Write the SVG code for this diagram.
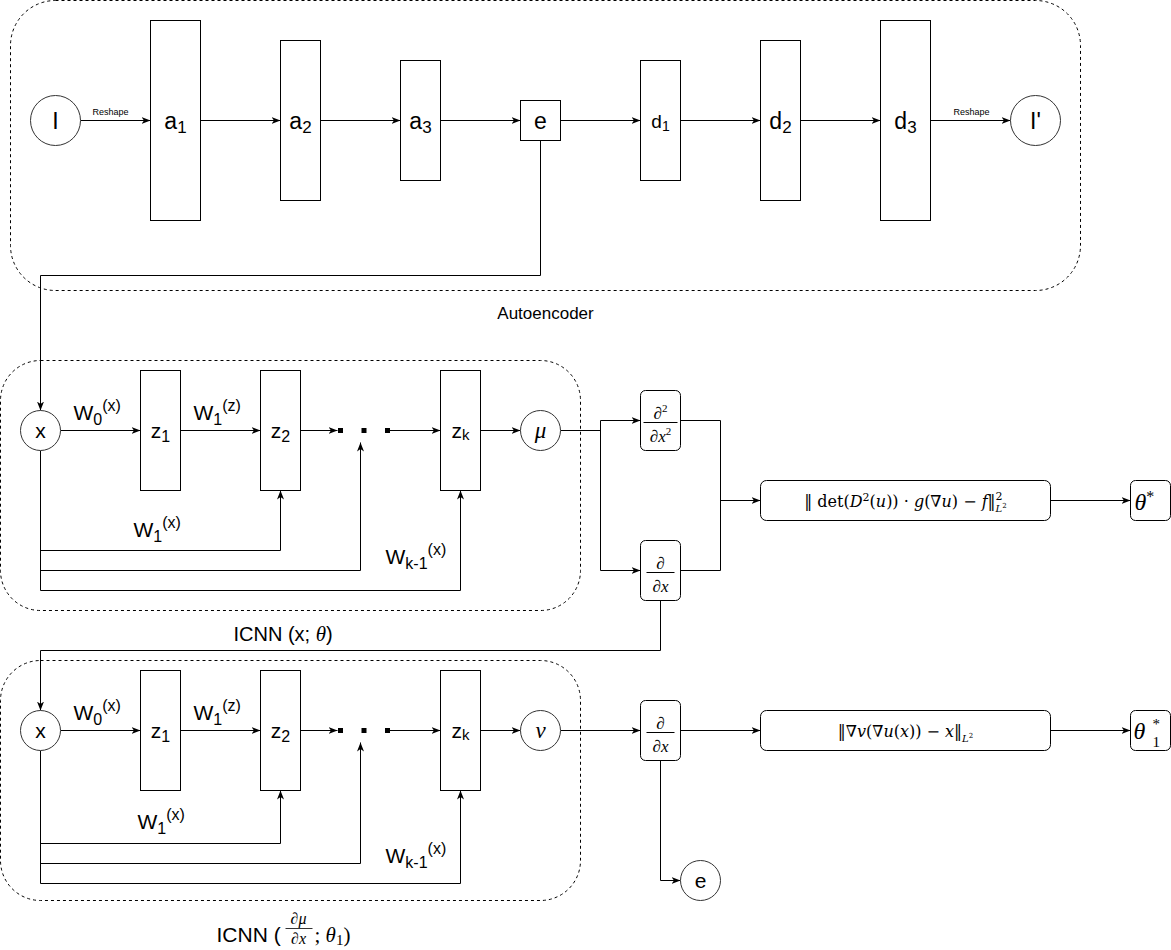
<svg xmlns="http://www.w3.org/2000/svg" width="1171" height="950" viewBox="0 0 1171 950">
<defs>
<marker id="arr" markerUnits="userSpaceOnUse" markerWidth="10" markerHeight="8" refX="9" refY="3.5" orient="auto">
<path d="M0,0 L9,3.5 L0,7 L2.5,3.5 Z" fill="#000"/>
</marker>
</defs>
<style>
.cont{fill:none;stroke:#000;stroke-width:1;stroke-dasharray:3 3}
.box{fill:#fff;stroke:#000;stroke-width:1}
.circ{fill:#fff;stroke:#333;stroke-width:1}
.ln{fill:none;stroke:#000;stroke-width:1}
.ar{fill:none;stroke:#000;stroke-width:1;marker-end:url(#arr)}
.t{font-family:"Liberation Sans",Arial,sans-serif;fill:#000}
.m{font-family:"Liberation Serif","DejaVu Serif",serif;fill:#000}
.f{font-family:"DejaVu Serif","Liberation Serif",serif;fill:#000}
.i{font-style:italic}
</style>
<rect width="1171" height="950" fill="#fff"/>
<g transform="translate(0.5,0.5)">
<g id="containers">
<rect class="cont" x="10" y="0" width="1070" height="290" rx="45" ry="45"/>
<rect class="cont" x="0" y="360" width="580" height="250" rx="40" ry="40"/>
<rect class="cont" x="0" y="660" width="580" height="240" rx="40" ry="40"/>
<text class="t" x="545" y="318" font-size="17" text-anchor="middle">Autoencoder</text>
<text class="t" x="233" y="640" font-size="20">ICNN (x; <tspan class="m i" font-size="21">θ</tspan>)</text>
<g id="icnn2-label">
<text class="t" x="216" y="941" font-size="21">ICNN (</text>
<text class="m i" x="298" y="923" font-size="16" text-anchor="middle">∂μ</text>
<line x1="285" y1="928" x2="312" y2="928" stroke="#000" stroke-width="0.8"/>
<text class="m i" x="298" y="943" font-size="16" text-anchor="middle">∂x</text>
<text class="m" x="314" y="941" font-size="21">; <tspan class="i">θ</tspan><tspan font-size="15" dy="3">1</tspan><tspan dy="-3">)</tspan></text>
</g>
</g>

<g id="connectors">
<path class="ar" d="M80,120 H150"/>
<text class="t" x="110" y="114" font-size="9" text-anchor="middle">Reshape</text>
<path class="ar" d="M200,120 H280"/>
<path class="ar" d="M320,120 H400"/>
<path class="ar" d="M440,120 H520"/>
<path class="ar" d="M560,120 H640"/>
<path class="ar" d="M680,120 H760"/>
<path class="ar" d="M800,120 H880"/>
<path class="ar" d="M930,120 H1010"/>
<text class="t" x="971" y="114" font-size="9" text-anchor="middle">Reshape</text>
<path class="ar" d="M540,140 V275 H40 V410"/>

<path class="ar" d="M60,430 H140"/>
<path class="ar" d="M180,430 H260"/>
<path class="ar" d="M300,430 H337"/>
<path class="ar" d="M388,430 H440"/>
<path class="ar" d="M480,430 H520"/>
<path class="ln" d="M560,430 H600"/>
<path class="ar" d="M600,420 H640"/>
<path class="ar" d="M600,420 V570 H640"/>
<path class="ar" d="M40,450 V590 H460 V490"/>
<path class="ar" d="M40,550 H280 V490"/>
<path class="ar" d="M40,570 H360 V442"/>
<path class="ln" d="M680,420 H720 V570 H680"/>
<path class="ar" d="M720,500 H760"/>
<path class="ar" d="M1050,500 H1130"/>
<path class="ar" d="M660,600 V650 H40 V710"/>

<path class="ar" d="M60,730 H140"/>
<path class="ar" d="M180,730 H260"/>
<path class="ar" d="M300,730 H337"/>
<path class="ar" d="M388,730 H440"/>
<path class="ar" d="M480,730 H520"/>
<path class="ar" d="M560,730 H640"/>
<path class="ar" d="M40,750 V883 H460 V790"/>
<path class="ar" d="M40,843 H280 V790"/>
<path class="ar" d="M40,863 H360 V742"/>
<path class="ar" d="M680,730 H760"/>
<path class="ar" d="M1050,730 H1130"/>
<path class="ar" d="M660,760 V880 H680"/>

<g id="weight-labels" class="t">
<text x="73" y="419" font-size="21">W<tspan font-size="16" dy="5">0</tspan><tspan font-size="16" dy="-14">(x)</tspan></text>
<text x="193" y="419" font-size="21">W<tspan font-size="16" dy="5">1</tspan><tspan font-size="16" dy="-14">(z)</tspan></text>
<text x="133" y="536" font-size="21">W<tspan font-size="16" dy="5">1</tspan><tspan font-size="16" dy="-14">(x)</tspan></text>
<text x="385" y="563" font-size="21">W<tspan font-size="16" dy="5">k-1</tspan><tspan font-size="16" dy="-14">(x)</tspan></text>
<text x="73" y="719" font-size="21">W<tspan font-size="16" dy="5">0</tspan><tspan font-size="16" dy="-14">(x)</tspan></text>
<text x="193" y="719" font-size="21">W<tspan font-size="16" dy="5">1</tspan><tspan font-size="16" dy="-14">(z)</tspan></text>
<text x="137" y="828" font-size="21">W<tspan font-size="16" dy="5">1</tspan><tspan font-size="16" dy="-14">(x)</tspan></text>
<text x="385" y="862" font-size="21">W<tspan font-size="16" dy="5">k-1</tspan><tspan font-size="16" dy="-14">(x)</tspan></text>
</g>
</g>

<g id="node-I"><circle class="circ" cx="55" cy="120" r="25"/><text class="t" x="55" y="128" font-size="23" text-anchor="middle">I</text></g>
<g id="node-a1"><rect class="box" x="150" y="20" width="50" height="200"/><text class="t" x="175" y="128" font-size="23" text-anchor="middle">a<tspan font-size="17" dy="4">1</tspan></text></g>
<g id="node-a2"><rect class="box" x="280" y="40" width="40" height="160"/><text class="t" x="300" y="128" font-size="23" text-anchor="middle">a<tspan font-size="17" dy="4">2</tspan></text></g>
<g id="node-a3"><rect class="box" x="400" y="60" width="40" height="120"/><text class="t" x="420" y="128" font-size="23" text-anchor="middle">a<tspan font-size="17" dy="4">3</tspan></text></g>
<g id="node-e"><rect class="box" x="520" y="100" width="40" height="40"/><text class="t" x="540" y="128" font-size="23" text-anchor="middle">e</text></g>
<g id="node-d1"><rect class="box" x="640" y="60" width="40" height="120"/><text class="t" x="660" y="127" font-size="19" text-anchor="middle">d<tspan font-size="14" dy="3">1</tspan></text></g>
<g id="node-d2"><rect class="box" x="760" y="40" width="40" height="160"/><text class="t" x="780" y="128" font-size="23" text-anchor="middle">d<tspan font-size="17" dy="4">2</tspan></text></g>
<g id="node-d3"><rect class="box" x="880" y="20" width="50" height="200"/><text class="t" x="905" y="128" font-size="23" text-anchor="middle">d<tspan font-size="17" dy="4">3</tspan></text></g>
<g id="node-Iprime"><circle class="circ" cx="1035" cy="120" r="25"/><text class="t" x="1035" y="128" font-size="23" text-anchor="middle">I'</text></g>

<g id="node-x1"><circle class="circ" cx="40" cy="430" r="20"/><text class="t" x="40" y="437" font-size="21" text-anchor="middle">x</text></g>
<g id="node-z1a"><rect class="box" x="140" y="370" width="40" height="120"/><text class="t" x="160" y="437" font-size="21" text-anchor="middle">z<tspan font-size="16" dy="4">1</tspan></text></g>
<g id="node-z2a"><rect class="box" x="260" y="370" width="40" height="120"/><text class="t" x="280" y="437" font-size="21" text-anchor="middle">z<tspan font-size="16" dy="4">2</tspan></text></g>
<g id="node-dotsa"><rect x="337.5" y="427.5" width="5" height="5"/><rect x="361" y="427.5" width="5" height="5"/><rect x="384.5" y="427.5" width="5" height="5"/></g>
<g id="node-zka"><rect class="box" x="440" y="370" width="40" height="120"/><text class="t" x="460" y="437" font-size="21" text-anchor="middle">z<tspan font-size="15" dy="2">k</tspan></text></g>
<g id="node-mu"><circle class="circ" cx="540" cy="430" r="20"/><text class="m i" x="540" y="437" font-size="23" text-anchor="middle">μ</text></g>

<g id="node-d2dx2"><rect class="box" x="640" y="390" width="40" height="60" rx="5"/>
<text class="m i" x="660" y="418" font-size="17" text-anchor="middle">∂<tspan font-size="11" dy="-7" font-style="normal">2</tspan></text>
<line x1="643" y1="422" x2="677" y2="422" stroke="#000" stroke-width="1"/>
<text class="m i" x="660" y="441" font-size="17" text-anchor="middle">∂x<tspan font-size="11" dy="-7" font-style="normal">2</tspan></text></g>
<g id="node-ddx1"><rect class="box" x="640" y="540" width="40" height="60" rx="5"/>
<text class="m i" x="660" y="568" font-size="17" text-anchor="middle">∂</text>
<line x1="646" y1="572" x2="674" y2="572" stroke="#000" stroke-width="1"/>
<text class="m i" x="660" y="591" font-size="17" text-anchor="middle">∂x</text></g>
<g id="node-loss1"><rect class="box" x="760" y="480" width="290" height="40" rx="6"/>
<text class="f" x="905" y="506" font-size="16" text-anchor="middle">‖ det(<tspan class="i">D</tspan><tspan font-size="11" dy="-6">2</tspan><tspan dy="6">(</tspan><tspan class="i">u</tspan>)) · <tspan class="i">g</tspan>(∇<tspan class="i">u</tspan>) − <tspan class="i">f</tspan>‖<tspan font-size="11" dy="-7">2</tspan><tspan font-size="10" dx="-7" dy="12" class="i">L</tspan><tspan font-size="7" dy="-4">2</tspan></text></g>
<g id="node-theta"><rect class="box" x="1130" y="480" width="40" height="40" rx="5"/><text class="m i" x="1134" y="509" font-size="24">θ<tspan font-size="16" dy="-8" font-style="normal">*</tspan></text></g>

<g id="node-x2"><circle class="circ" cx="40" cy="730" r="20"/><text class="t" x="40" y="737" font-size="21" text-anchor="middle">x</text></g>
<g id="node-z1b"><rect class="box" x="140" y="670" width="40" height="120"/><text class="t" x="160" y="737" font-size="21" text-anchor="middle">z<tspan font-size="16" dy="4">1</tspan></text></g>
<g id="node-z2b"><rect class="box" x="260" y="670" width="40" height="120"/><text class="t" x="280" y="737" font-size="21" text-anchor="middle">z<tspan font-size="16" dy="4">2</tspan></text></g>
<g id="node-dotsb"><rect x="337.5" y="727.5" width="5" height="5"/><rect x="361" y="727.5" width="5" height="5"/><rect x="384.5" y="727.5" width="5" height="5"/></g>
<g id="node-zkb"><rect class="box" x="440" y="670" width="40" height="120"/><text class="t" x="460" y="737" font-size="21" text-anchor="middle">z<tspan font-size="15" dy="2">k</tspan></text></g>
<g id="node-nu"><circle class="circ" cx="540" cy="730" r="20"/><text class="m i" x="540" y="737" font-size="23" text-anchor="middle">ν</text></g>
<g id="node-ddx2"><rect class="box" x="640" y="700" width="40" height="60" rx="5"/>
<text class="m i" x="660" y="728" font-size="17" text-anchor="middle">∂</text>
<line x1="646" y1="732" x2="674" y2="732" stroke="#000" stroke-width="1"/>
<text class="m i" x="660" y="751" font-size="17" text-anchor="middle">∂x</text></g>
<g id="node-loss2"><rect class="box" x="760" y="710" width="290" height="40" rx="6"/>
<text class="f" x="905" y="736" font-size="16" text-anchor="middle">‖∇<tspan class="i">v</tspan>(∇<tspan class="i">u</tspan>(<tspan class="i">x</tspan>)) − <tspan class="i">x</tspan>‖<tspan font-size="10" dy="5" class="i">L</tspan><tspan font-size="7" dy="-4">2</tspan></text></g>
<g id="node-theta1"><rect class="box" x="1130" y="710" width="40" height="40" rx="5"/><text class="m i" x="1133" y="738" font-size="24">θ</text><text class="m" x="1152" y="728" font-size="15">*</text><text class="m" x="1152" y="746" font-size="15">1</text></g>
<g id="node-e2"><circle class="circ" cx="700" cy="880" r="20"/><text class="t" x="700" y="887" font-size="21" text-anchor="middle">e</text></g>
</g>
</svg>
